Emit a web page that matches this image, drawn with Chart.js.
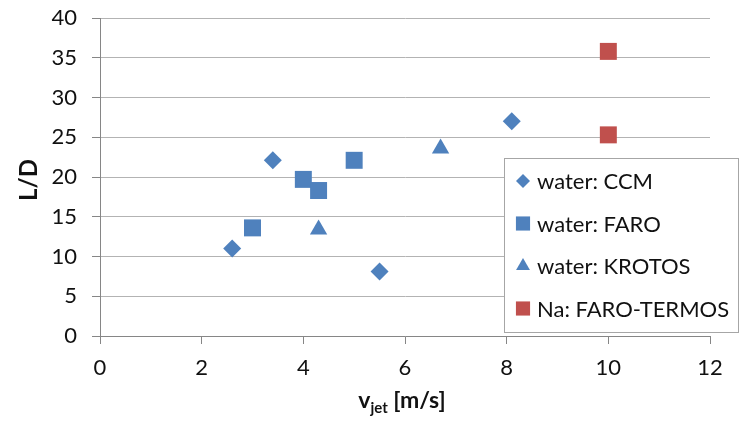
<!DOCTYPE html>
<html>
<head>
<meta charset="utf-8">
<script src="https://cdn.jsdelivr.net/npm/chart.js@4.4.1/dist/chart.umd.min.js"></script>
<style>
  html, body { margin: 0; padding: 0; background: #fff; }
  #wrap { width: 741px; height: 421px; }
</style>
</head>
<body>
<div id="wrap"><canvas id="chart" width="741" height="421"></canvas></div>
<script>
const ccmX = [2.6, 3.4, 5.5, 8.1];
const ccmY = [11.0, 22.1, 8.1, 27.0];
const faroX = [3.0, 4.0, 4.3, 5.0];
const faroY = [13.6, 19.7, 18.3, 22.1];
const krotosX = [4.3, 6.7];
const krotosY = [13.4, 23.6];
const naX = [10, 10];
const naY = [35.8, 25.3];

const blue = "#4f81bd";
const red = "#c0504d";
const font = "Lato, 'Open Sans', sans-serif";

const toPoints = (xs, ys) => xs.map((x, i) => ({ x: x, y: ys[i] }));

// legend drawn as a box inside the plot, like the spreadsheet one
const boxLegend = {
    id: "boxLegend",
    afterDraw(chart) {
        const ctx = chart.ctx;
        const left = 504, top = 158, w = 234, h = 174;
        ctx.save();
        ctx.fillStyle = "#fff";
        ctx.fillRect(left, top, w, h);
        ctx.strokeStyle = "#a6a6a6";
        ctx.lineWidth = 1;
        ctx.strokeRect(left + 0.5, top + 0.5, w, h);
        ctx.font = "22px " + font;
        ctx.textBaseline = "middle";
        chart.data.datasets.forEach((ds, i) => {
            const y = top + 23 + i * 42.5;
            ctx.fillStyle = ds.backgroundColor;
            ctx.strokeStyle = ds.backgroundColor;
            Chart.helpers.drawPoint(ctx, {
                pointStyle: ds.pointStyle,
                radius: ds.pointStyle === "triangle" ? 8 : (ds.pointStyle === "rect" ? 10 : 7),
                rotation: 0,
                borderWidth: 0
            }, 523, y);
            ctx.fillStyle = "#111";
            ctx.fillText(ds.label, 537, y + 1);
        });
        ctx.restore();
    }
};

// axis titles, the x one with a subscript
const axisTitles = {
    id: "axisTitles",
    afterDraw(chart) {
        const ctx = chart.ctx;
        ctx.save();
        ctx.fillStyle = "#111";
        ctx.textBaseline = "alphabetic";
        const big = "bold 23px " + font;
        const small = "bold 15px " + font;
        ctx.font = big;
        const wV = ctx.measureText("v").width;
        const wRest = ctx.measureText(" [m/s]").width;
        ctx.font = small;
        const wSub = ctx.measureText("jet").width;
        let x = 402 - (wV + wSub + wRest) / 2;
        const base = 408;
        ctx.font = big;
        ctx.fillText("v", x, base);
        x += wV;
        ctx.font = small;
        ctx.fillText("jet", x, base + 5);
        x += wSub;
        ctx.font = big;
        ctx.fillText(" [m/s]", x, base);

        ctx.translate(29, 180);
        ctx.rotate(-Math.PI / 2);
        ctx.textAlign = "center";
        ctx.textBaseline = "middle";
        ctx.font = "bold 24px " + font;
        ctx.fillText("L/D", 0, 0);
        ctx.restore();
    }
};

const noScalePadding = (scale) => {
    scale.paddingTop = 0;
    scale.paddingBottom = 0;
    scale.paddingLeft = 0;
    scale.paddingRight = 0;
};

new Chart(document.getElementById("chart"), {
    type: "scatter",
    plugins: [boxLegend, axisTitles],
    data: {
        datasets: [
            { label: "water: CCM", data: toPoints(ccmX, ccmY), pointStyle: "rectRot",
              pointRadius: 9, backgroundColor: blue, borderColor: blue, borderWidth: 0 },
            { label: "water: FARO", data: toPoints(faroX, faroY), pointStyle: "rect",
              pointRadius: 12, backgroundColor: blue, borderColor: blue, borderWidth: 0 },
            { label: "water: KROTOS", data: toPoints(krotosX, krotosY), pointStyle: "triangle",
              pointRadius: 10, backgroundColor: blue, borderColor: blue, borderWidth: 0 },
            { label: "Na: FARO-TERMOS", data: toPoints(naX, naY), pointStyle: "rect",
              pointRadius: 12, backgroundColor: red, borderColor: red, borderWidth: 0 }
        ]
    },
    options: {
        responsive: false,
        animation: false,
        layout: { padding: { left: 0, right: 31, top: 18, bottom: 0 } },
        plugins: {
            legend: { display: false },
            tooltip: { enabled: false }
        },
        scales: {
            x: {
                type: "linear",
                min: 0, max: 12,
                afterFit: (scale) => { scale.height = 85; noScalePadding(scale); },
                ticks: { stepSize: 2, color: "#111", font: { size: 22, family: font }, padding: 11 },
                grid: { drawOnChartArea: false, drawTicks: true, tickLength: 8, color: "#868686" },
                border: { color: "#868686", width: 1 }
            },
            y: {
                min: 0, max: 40,
                afterFit: (scale) => { scale.width = 100; noScalePadding(scale); },
                ticks: { stepSize: 5, color: "#111", font: { size: 22, family: font }, padding: 15 },
                grid: { color: "#b3b3b3", tickLength: 8, tickColor: "#868686" },
                border: { color: "#868686", width: 1 }
            }
        }
    }
});
</script>
</body>
</html>
